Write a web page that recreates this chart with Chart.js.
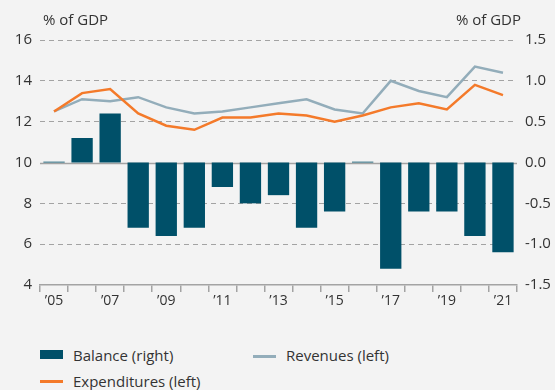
<!DOCTYPE html>
<html>
<head>
<meta charset="utf-8">
<script src="https://cdn.jsdelivr.net/npm/chart.js@4"></script>
<style>
  html, body { margin: 0; padding: 0; background: #f3f3f3; }
  body { width: 555px; height: 390px; position: relative; overflow: hidden;
         font-family: "Open Sans", sans-serif; color: #333; }
  #wrap { position: absolute; left: 0; top: 0; width: 555px; height: 330px; }
  .unit { position: absolute; top: 9px; font-size: 15px; }
  .legend { position: absolute; font-size: 15px; line-height: 20px; }
  .legend span.sw { position: absolute; left: -33px; }
</style>
</head>
<body>
<div id="wrap"><canvas id="fiscalChart"></canvas></div>
<div class="unit" style="left:43px">% of GDP</div>
<div class="unit" style="right:34px">% of GDP</div>

<div class="legend" style="left:73px; top:345px">
  <span class="sw" style="top:5px; width:23px; height:9px; background:#005069"></span>Balance (right)
</div>
<div class="legend" style="left:286px; top:345px">
  <span class="sw" style="top:10px; width:23px; height:3px; background:#93adba"></span>Revenues (left)
</div>
<div class="legend" style="left:73px; top:371px">
  <span class="sw" style="top:9px; width:23px; height:3px; background:#f47a2a"></span>Expenditures (left)
</div>

<script>
// fiscal data, % of GDP
const years = ['2005', '2006', '2007', '2008', '2009', '2010', '2011', '2012', '2013',
               '2014', '2015', '2016', '2017', '2018', '2019', '2020', '2021'];
const balance = [0.01, 0.3, 0.6, -0.8, -0.9, -0.8, -0.3, -0.5, -0.4,
                 -0.8, -0.6, 0.01, -1.3, -0.6, -0.6, -0.9, -1.1];
const revenues = [12.5, 13.1, 13.0, 13.2, 12.7, 12.4, 12.5, 12.7, 12.9,
                  13.1, 12.6, 12.4, 14.0, 13.5, 13.2, 14.7, 14.4];
const expenditures = [12.5, 13.4, 13.6, 12.4, 11.8, 11.6, 12.2, 12.2, 12.4,
                      12.3, 12.0, 12.3, 12.7, 12.9, 12.6, 13.8, 13.3];

const textColor = '#333';
const gridColor = '#a3a3a3';
const tickFont = { family: 'Open Sans', size: 15 };

// solid reference line at 10 (= 0.0 on the right axis)
const zeroLine = {
  id: 'zeroLine',
  beforeDatasetsDraw(chart) {
    const { ctx, chartArea, scales } = chart;
    const y = Math.round(scales.y.getPixelForValue(10)) + 0.5;
    ctx.save();
    ctx.strokeStyle = gridColor;
    ctx.lineWidth = 1.5;
    ctx.beginPath();
    ctx.moveTo(chartArea.left, y);
    ctx.lineTo(chartArea.right, y);
    ctx.stroke();
    ctx.restore();
  }
};

new Chart(document.getElementById('fiscalChart'), {
  data: {
    labels: years,
    datasets: [
      {
        type: 'line', label: 'Expenditures (left)', data: expenditures, yAxisID: 'y',
        borderColor: '#f47a2a', borderWidth: 2.5, pointRadius: 0, tension: 0, order: 1
      },
      {
        type: 'line', label: 'Revenues (left)', data: revenues, yAxisID: 'y',
        borderColor: '#93adba', borderWidth: 2.5, pointRadius: 0, tension: 0, order: 2
      },
      {
        type: 'bar', label: 'Balance (right)', data: balance, yAxisID: 'y1',
        backgroundColor: '#005069', barPercentage: 0.76, categoryPercentage: 1, order: 3
      }
    ]
  },
  options: {
    responsive: true,
    maintainAspectRatio: false,
    animation: false,
    layout: { padding: { top: 40, left: 0, right: 0, bottom: 0 } },
    plugins: { legend: { display: false }, tooltip: { enabled: false } },
    scales: {
      x: {
        offset: true,
        grid: { offset: true, drawOnChartArea: false, drawTicks: true, tickLength: 7, color: gridColor, lineWidth: 1.5 },
        border: { color: gridColor, width: 1.5 },
        ticks: {
          color: textColor, font: { family: 'Open Sans', size: 14 }, padding: 1,
          autoSkip: false, maxRotation: 0,
          callback: (v, i) => i % 2 === 0 ? '\u2019' + years[i].slice(2) : ''
        },
        afterFit: s => { s.height = 45; }
      },
      y: {
        position: 'left', min: 4, max: 16,
        ticks: { stepSize: 2, color: textColor, font: tickFont, padding: 8 },
        grid: {
          drawTicks: false, lineWidth: 1,
          color: c => (c.tick.value === 10 || c.tick.value === 4) ? 'rgba(0,0,0,0)' : gridColor
        },
        border: { display: false, dash: [5, 4] },
        afterFit: s => { s.width = 40; }
      },
      y1: {
        position: 'right', min: -1.5, max: 1.5,
        ticks: { stepSize: 0.5, color: textColor, font: tickFont, padding: 8,
                 callback: v => v.toFixed(1) },
        grid: { display: false, drawTicks: false },
        border: { display: false },
        afterFit: s => { s.width = 38; }
      }
    }
  },
  plugins: [zeroLine]
});
</script>
</body>
</html>
